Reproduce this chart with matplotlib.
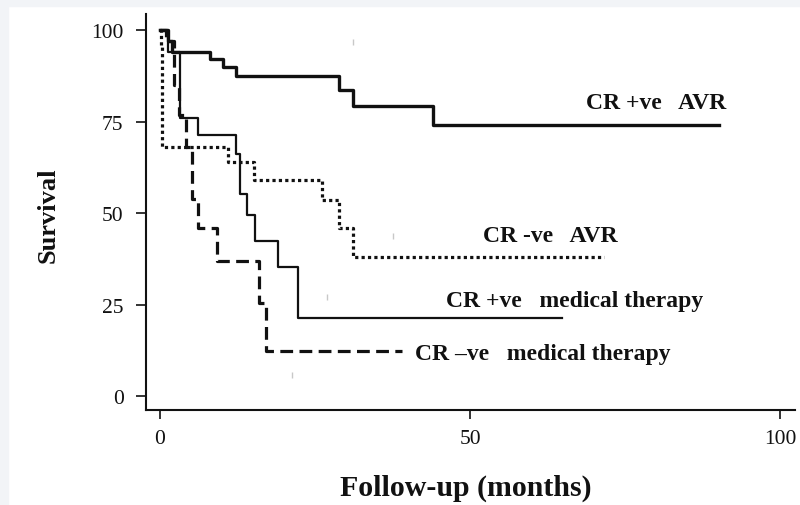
import matplotlib
matplotlib.use("Agg")
import matplotlib.pyplot as plt
from matplotlib.patches import Rectangle

# ---- data ----
avr_pos_t = [0, 1.3, 2.0, 8.0, 10.2, 12.2, 28.9, 31.1, 44.0]
avr_pos_s = [100, 97, 94.2, 92.1, 89.9, 87.6, 83.7, 79.4, 74.2]
avr_pos_end = 90.2

avr_neg_t = [0, 0.2, 0.4, 11.0, 15.1, 26.1, 28.9, 31.1]
avr_neg_s = [100, 96, 68, 64, 59.2, 53.5, 46.0, 38.0]
avr_neg_end = 71.6

med_pos_t = [0, 1.3, 3.2, 6.1, 12.2, 12.9, 14.1, 15.3, 19.1, 22.3]
med_pos_s = [100, 94, 76, 71.5, 66.3, 55.3, 49.6, 42.5, 35.4, 21.4]
med_pos_end = 64.9

med_neg_t = [0, 1.0, 2.2, 3.0, 4.2, 5.1, 6.1, 9.2, 16.0, 17.1]
med_neg_s = [100, 97, 85, 77, 68, 54, 46, 37, 25.5, 12.2]
med_neg_end = 39.0

censor_x = [37.6, 26.9, 21.3, 31.1]
censor_y = [43.8, 27.1, 5.7, 96.9]

labels = ["CR +ve   AVR", "CR -ve   AVR", "CR +ve   medical therapy", "CR \u2013ve   medical therapy"]
label_x = [80.0, 63.0, 66.8, 61.8]
label_y = [80.2, 44.0, 26.0, 11.5]

x_ticks = [0, 50, 100]
y_ticks = [0, 25, 50, 75, 100]

serif = ["Liberation Serif", "DejaVu Serif"]
plt.rcParams['font.family'] = serif

fig = plt.figure(figsize=(8, 5.06), dpi=100, facecolor="white")
fig.patches.append(Rectangle((0, 1 - 7 / 506), 1, 7 / 506, transform=fig.transFigure,
                             color="#f2f4f7", zorder=0))
fig.patches.append(Rectangle((0, 0), 8 / 800, 1, transform=fig.transFigure,
                             color="#f2f4f7", zorder=0))

ax = fig.add_axes([146 / 800, (506 - 411) / 506, (795 - 146) / 800, (411 - 15) / 506])
ax.set_facecolor("white")


def km(t, s, end, **kw):
    ax.step(list(t) + [end], list(s) + [s[-1]], where="post", **kw)


km(med_neg_t, med_neg_s, med_neg_end, color="#111111", lw=2.3, linestyle=(0, (4, 2)))
km(avr_neg_t, avr_neg_s, avr_neg_end, color="#111111", lw=2.3, linestyle=(0, (1, 1)))
km(med_pos_t, med_pos_s, med_pos_end, color="#111111", lw=1.6)
km(avr_pos_t, avr_pos_s, avr_pos_end, color="#111111", lw=2.4)

ax.plot(censor_x, censor_y, linestyle="none", marker="|", markersize=5,
        color="#c8c8c8", markeredgewidth=1)

for txt, lx, ly in zip(labels, label_x, label_y):
    ax.text(lx, ly, txt, ha="center", va="center", fontsize=17,
            fontweight="bold", color="#111111")

ax.set_xlim(-2.26, 102.4)
ax.set_ylim(-3.83, 104.5)
ax.set_xticks(x_ticks)
ax.set_yticks(y_ticks)
ax.tick_params(axis="y", length=7.2, width=1.2, pad=9, labelsize=15.5, colors="#111111")
ax.tick_params(axis="x", length=6.5, width=1.2, pad=7.5, labelsize=15.5, colors="#111111")
for side in ("top", "right"):
    ax.spines[side].set_visible(False)
for side in ("left", "bottom"):
    ax.spines[side].set_linewidth(1.5)
    ax.spines[side].set_color("#111111")

fig.text(466 / 800, 1 - 488 / 506, "Follow-up (months)", ha="center", va="center",
         fontsize=21.5, fontweight="bold", color="#111111")
fig.text(48 / 800, 1 - 215 / 506, "Survival", ha="center", va="center", rotation=90,
         fontsize=19, fontweight="bold", color="#111111")

fig.savefig("out.png", dpi=100, facecolor=fig.get_facecolor())
